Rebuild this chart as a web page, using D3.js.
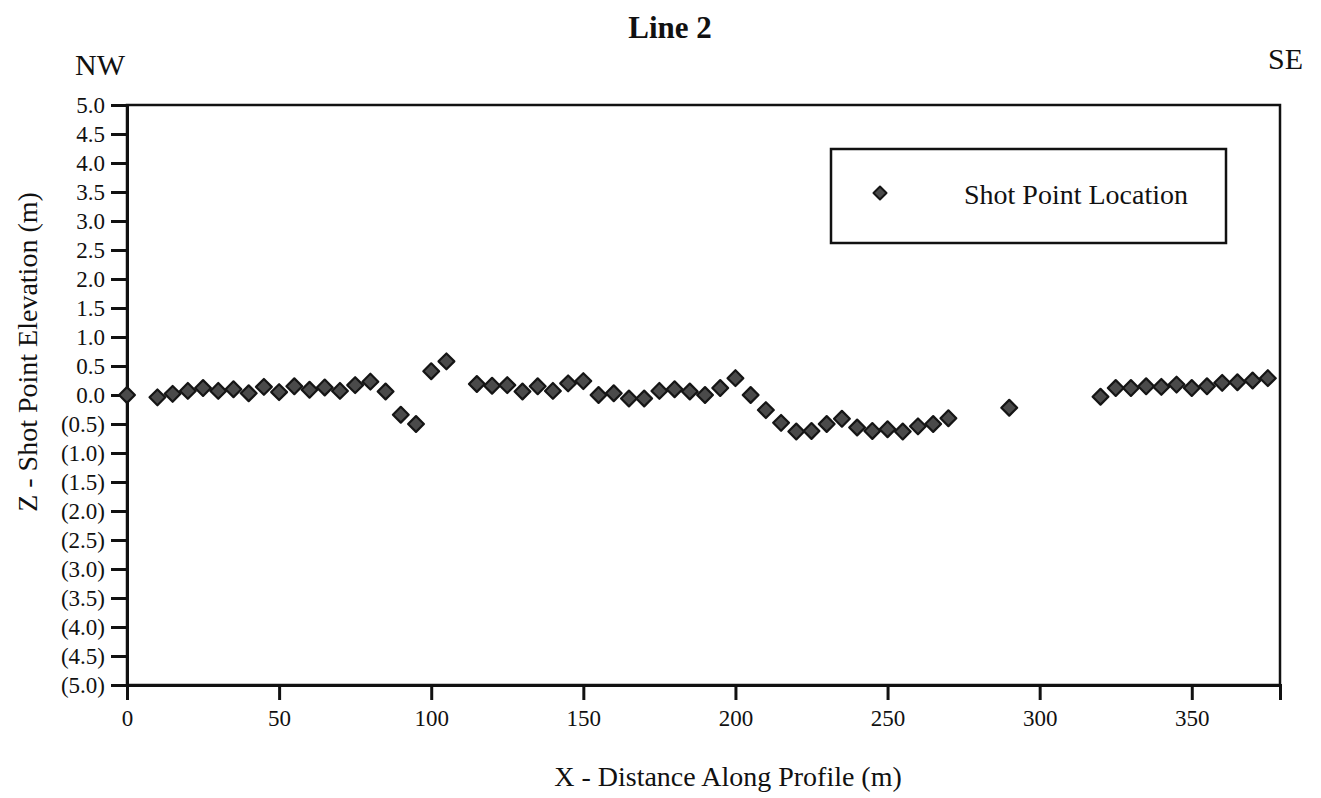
<!DOCTYPE html>
<html>
<head>
<meta charset="utf-8">
<script src="https://cdn.jsdelivr.net/npm/d3@7"></script>
<style>
  html, body { margin: 0; padding: 0; background: #ffffff; }
  svg { display: block; }
  text { font-family: "Liberation Serif", "Times New Roman", serif; fill: #111; }
</style>
</head>
<body>
<svg id="chart" width="1321" height="798"></svg>
<script>
// ---- Data ----
const distance = [0, 10, 15, 20, 25, 30, 35, 40, 45, 50, 55, 60, 65, 70, 75, 80, 85, 90, 95, 100, 105,
  115, 120, 125, 130, 135, 140, 145, 150, 155, 160, 165, 170, 175, 180, 185, 190, 195, 200, 205, 210,
  215, 220, 225, 230, 235, 240, 245, 250, 255, 260, 265, 270, 290,
  320, 325, 330, 335, 340, 345, 350, 355, 360, 365, 370, 375];
const elevation = [0.00, -0.04, 0.02, 0.07, 0.12, 0.07, 0.10, 0.03, 0.14, 0.05, 0.15, 0.09, 0.13, 0.07, 0.17, 0.23, 0.06, -0.34, -0.50, 0.41, 0.58,
  0.19, 0.16, 0.17, 0.06, 0.15, 0.07, 0.20, 0.24, 0.00, 0.03, -0.06, -0.06, 0.07, 0.10, 0.06, 0.00, 0.12, 0.29, 0.00, -0.26,
  -0.48, -0.63, -0.62, -0.50, -0.41, -0.56, -0.62, -0.59, -0.63, -0.54, -0.50, -0.40, -0.22,
  -0.03, 0.12, 0.12, 0.15, 0.14, 0.18, 0.12, 0.15, 0.21, 0.22, 0.25, 0.29];
const xTicks = [0, 50, 100, 150, 200, 250, 300, 350];
const yTicks = [5, 4.5, 4, 3.5, 3, 2.5, 2, 1.5, 1, 0.5, 0, -0.5, -1, -1.5, -2, -2.5, -3, -3.5, -4, -4.5, -5];
const titleText = "Line 2";
const xTitle = "X - Distance Along Profile (m)";
const yTitle = "Z - Shot Point Elevation (m)";
const legendLabel = "Shot Point Location";
const leftDir = "NW", rightDir = "SE";

// ---- Layout ----
const svg = d3.select("#chart");
const L = 127, R = 1280, T = 105, B = 685;

const x = d3.scaleLinear().domain([0, 379]).range([L, R]);
const y = d3.scaleLinear().domain([-5, 5]).range([B, T]);

const fmtY = v => v < 0 ? "(" + d3.format(".1f")(-v) + ")" : d3.format(".1f")(v);

// frame (top & right)
svg.append("rect")
  .attr("x", L).attr("y", T).attr("width", R - L).attr("height", B - T)
  .attr("fill", "none").attr("stroke", "#111").attr("stroke-width", 2.5);

// y axis
const yAxis = svg.append("g").attr("transform", `translate(${L},0)`)
  .call(d3.axisLeft(y).tickValues(yTicks).tickFormat(fmtY).tickSize(16).tickPadding(6));
yAxis.select(".domain").attr("stroke", "#111").attr("stroke-width", 3);
yAxis.selectAll(".tick line").attr("stroke", "#111").attr("stroke-width", 3);
yAxis.selectAll(".tick text").attr("font-size", 23).attr("font-family", "Liberation Serif").attr("fill", "#111");

// x axis
const xAxis = svg.append("g").attr("transform", `translate(0,${B})`)
  .call(d3.axisBottom(x).tickValues(xTicks).tickFormat(d3.format("d")).tickSize(15).tickPadding(10));
xAxis.select(".domain").attr("stroke", "#111").attr("stroke-width", 3);
xAxis.selectAll(".tick line").attr("stroke", "#111").attr("stroke-width", 3);
xAxis.selectAll(".tick text").attr("font-size", 23).attr("font-family", "Liberation Serif").attr("fill", "#111");

// points (diamonds = rotated squares)
const sym = d3.symbol().type(d3.symbolSquare).size(125);
svg.append("g").selectAll("path")
  .data(distance.map((d, i) => ({ d, z: elevation[i] })))
  .join("path")
  .attr("d", sym)
  .attr("transform", p => `translate(${x(p.d)},${y(p.z)}) rotate(45)`)
  .attr("fill", "#4a4a4a")
  .attr("stroke", "#151515")
  .attr("stroke-width", 2.2)
  .attr("stroke-linejoin", "round");

// legend
const lg = svg.append("g");
lg.append("rect").attr("x", 831).attr("y", 149).attr("width", 395).attr("height", 94)
  .attr("fill", "#fff").attr("stroke", "#111").attr("stroke-width", 2.5);
lg.append("path").attr("d", d3.symbol().type(d3.symbolSquare).size(85))
  .attr("transform", "translate(880,193) rotate(45)")
  .attr("fill", "#4a4a4a").attr("stroke", "#151515").attr("stroke-width", 2)
  .attr("stroke-linejoin", "round");
lg.append("text").attr("x", 964).attr("y", 204).attr("font-size", 28).text(legendLabel);

// titles
svg.append("text").attr("x", 670).attr("y", 38).attr("text-anchor", "middle")
  .attr("font-size", 31).attr("font-weight", "bold").text(titleText);
svg.append("text").attr("x", 75).attr("y", 75).attr("font-size", 30).text(leftDir);
svg.append("text").attr("x", 1303).attr("y", 69).attr("text-anchor", "end").attr("font-size", 30).text(rightDir);
svg.append("text").attr("x", 728).attr("y", 786).attr("text-anchor", "middle")
  .attr("font-size", 28).text(xTitle);
svg.append("text").attr("transform", "translate(37,352) rotate(-90)").attr("text-anchor", "middle")
  .attr("font-size", 28).text(yTitle);
</script>
</body>
</html>
